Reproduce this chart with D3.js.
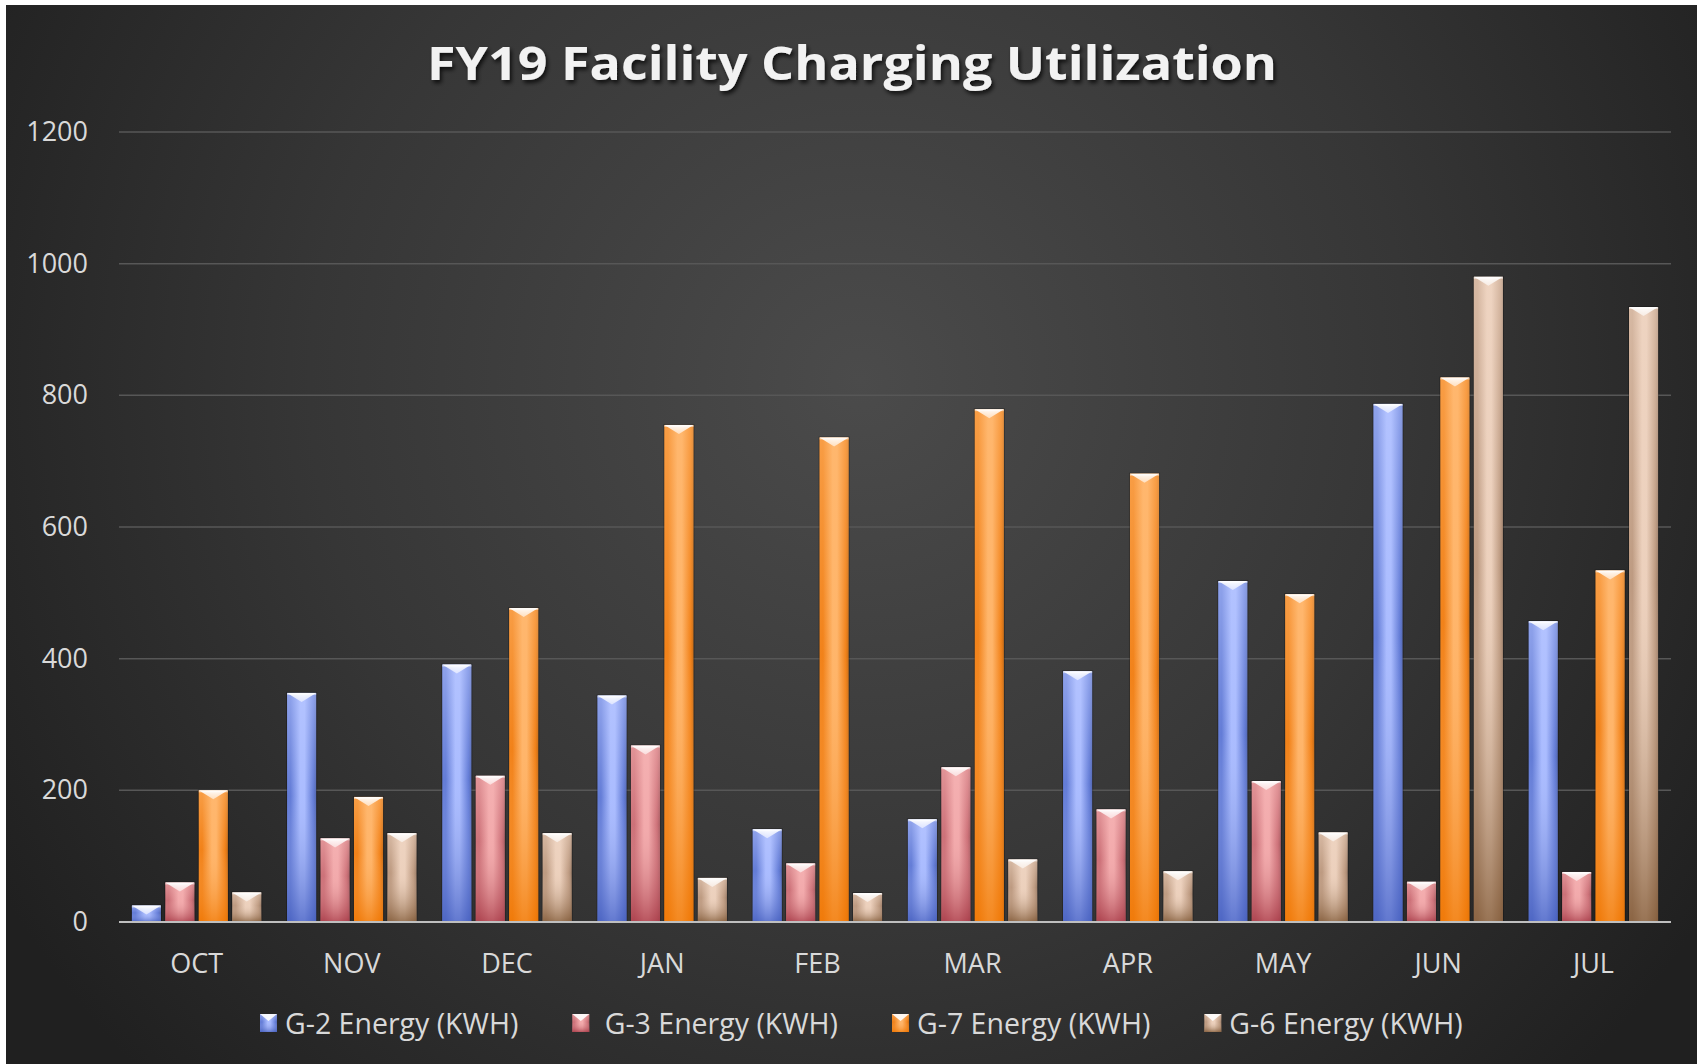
<!DOCTYPE html>
<html>
<head>
<meta charset="utf-8">
<script src="https://cdn.jsdelivr.net/npm/d3@7"></script>
<style>
  html, body { margin: 0; padding: 0; background: #ffffff; }
  svg { display: block; }
  .leg text { white-space: pre; }
</style>
</head>
<body>
<svg id="chart" width="1697" height="1064"></svg>
<script>
// ---- DATA ----
const months = ["OCT", "NOV", "DEC", "JAN", "FEB", "MAR", "APR", "MAY", "JUN", "JUL"];
const seriesNames = ["G-2 Energy (KWH)", " G-3 Energy (KWH)", "G-7 Energy (KWH)", "G-6 Energy (KWH)"];
const g2 = [25, 348, 391, 344, 141, 156, 381, 518, 787, 457];
const g3 = [60, 127, 222, 268, 89, 235, 171, 214, 61, 76];
const g7 = [200, 190, 477, 755, 736, 779, 681, 498, 827, 534];
const g6 = [45, 135, 135, 67, 44, 95, 77, 136, 980, 934];
const yTicks = [0, 200, 400, 600, 800, 1000, 1200];
const titleText = "FY19 Facility Charging Utilization";

const seriesValues = [g2, g3, g7, g6];

// ---- STYLES ----
const palettes = [
  { edge: "#5a74d2", mid: "#a9bbff", top: "#bac8ff", bottom: "#4a62bf" },
  { edge: "#c86a72", mid: "#f2a9ab", top: "#f6b6b6", bottom: "#a53845" },
  { edge: "#f07c10", mid: "#ffb56a", top: "#ffb870", bottom: "#f07a08" },
  { edge: "#b8947a", mid: "#ecd0bc", top: "#efd6c4", bottom: "#7c5532" }
];

const svg = d3.select("#chart");
const defs = svg.append("defs");

// Background gradient
const bg = defs.append("radialGradient").attr("id", "bgGrad")
  .attr("gradientUnits", "userSpaceOnUse")
  .attr("cx", 860).attr("cy", 380).attr("r", 1000);
bg.append("stop").attr("offset", "0").attr("stop-color", "#4b4b4b");
bg.append("stop").attr("offset", "0.55").attr("stop-color", "#363636");
bg.append("stop").attr("offset", "1").attr("stop-color", "#202020");

// Title shadow
const f = defs.append("filter").attr("id", "tshadow").attr("x", "-5%").attr("y", "-20%").attr("width", "110%").attr("height", "160%");
f.append("feDropShadow").attr("dx", 2).attr("dy", 3).attr("stdDeviation", 2)
  .attr("flood-color", "#000").attr("flood-opacity", 0.75);

// Bar gradients
palettes.forEach((p, i) => {
  const h = defs.append("linearGradient").attr("id", "h" + i)
    .attr("x1", "0").attr("y1", "0").attr("x2", "1").attr("y2", "0");
  h.append("stop").attr("offset", "0").attr("stop-color", p.edge);
  h.append("stop").attr("offset", "0.12").attr("stop-color", p.edge);
  h.append("stop").attr("offset", "0.45").attr("stop-color", p.mid);
  h.append("stop").attr("offset", "0.6").attr("stop-color", p.mid);
  h.append("stop").attr("offset", "0.9").attr("stop-color", p.edge);
  h.append("stop").attr("offset", "1").attr("stop-color", d3.color(p.edge).darker(0.6));

  const v = defs.append("linearGradient").attr("id", "v" + i)
    .attr("x1", "0").attr("y1", "0").attr("x2", "0").attr("y2", "1");
  v.append("stop").attr("offset", "0").attr("stop-color", p.top).attr("stop-opacity", 0.55);
  v.append("stop").attr("offset", "0.45").attr("stop-color", p.top).attr("stop-opacity", 0.1);
  v.append("stop").attr("offset", "1").attr("stop-color", p.bottom).attr("stop-opacity", 0.75);

  const t = defs.append("linearGradient").attr("id", "t" + i)
    .attr("x1", "0").attr("y1", "0").attr("x2", "0").attr("y2", "1");
  t.append("stop").attr("offset", "0").attr("stop-color", "#ffffff").attr("stop-opacity", 0.95);
  t.append("stop").attr("offset", "1").attr("stop-color", "#ffffff").attr("stop-opacity", 0.55);
});

// Background
svg.append("rect").attr("x", 6).attr("y", 5).attr("width", 1691).attr("height", 1059)
  .attr("fill", "url(#bgGrad)");

// ---- SCALES ----
const x0 = d3.scaleBand().domain(months).range([119, 1671]).paddingInner(0.166).paddingOuter(0.083);
const x1 = d3.scaleBand().domain(d3.range(seriesNames.length)).range([0, x0.bandwidth()]).paddingInner(0.13);
const y = d3.scaleLinear().domain([0, 1200]).range([922, 132]);

const FONT = "'Open Sans', 'Noto Sans', sans-serif";

// Gridlines
svg.append("g").selectAll("line").data(yTicks.filter(d => d > 0)).join("line")
  .attr("x1", 119).attr("x2", 1671)
  .attr("y1", d => y(d)).attr("y2", d => y(d))
  .attr("stroke", "#575757").attr("stroke-width", 1.5);

// Y axis labels
const yAxis = d3.axisLeft(y).tickValues(yTicks).tickSize(0).tickPadding(0).tickFormat(d3.format("d"));
const yg = svg.append("g").attr("transform", "translate(88,0)").call(yAxis);
yg.select(".domain").remove();
yg.selectAll("text").attr("font-family", FONT).attr("font-size", 27).attr("fill", "#d9d9d9");

// Bars
const groups = svg.append("g").selectAll("g").data(months).join("g")
  .attr("transform", d => `translate(${x0(d)},0)`);

groups.each(function(m, mi) {
  const g = d3.select(this);
  seriesValues.forEach((vals, si) => {
    const v = vals[mi];
    const bx = x1(si), bw = x1.bandwidth();
    const by = y(v), bh = y(0) - y(v);
    g.append("rect").attr("x", bx - 1).attr("y", by - 1).attr("width", bw + 2).attr("height", bh + 1)
      .attr("fill", "#000").attr("opacity", 0.25);
    g.append("rect").attr("x", bx).attr("y", by).attr("width", bw).attr("height", bh)
      .attr("fill", `url(#h${si})`);
    g.append("rect").attr("x", bx).attr("y", by).attr("width", bw).attr("height", bh)
      .attr("fill", `url(#v${si})`);
    const th = Math.min(9, bh);
    g.append("path")
      .attr("d", `M${bx},${by}L${bx + bw},${by}L${bx + bw * 0.5},${by + th}Z`)
      .attr("fill", `url(#t${si})`);
    g.append("rect").attr("x", bx).attr("y", by).attr("width", bw).attr("height", 2)
      .attr("fill", "#ffffff").attr("opacity", 0.5);
  });
});

// X axis line
svg.append("line").attr("x1", 119).attr("x2", 1671).attr("y1", y(0)).attr("y2", y(0))
  .attr("stroke", "#bfbfbf").attr("stroke-width", 2);

// X axis labels
const xAxis = d3.axisBottom(x0).tickSize(0).tickPadding(0);
const xg = svg.append("g").attr("transform", `translate(0,${y(0)})`).call(xAxis);
xg.select(".domain").remove();
xg.selectAll("text").attr("font-family", FONT).attr("font-size", 27).attr("fill", "#d9d9d9")
  .attr("dy", null).attr("y", 51);

// Title
svg.append("text").attr("x", 852).attr("y", 80).attr("text-anchor", "middle")
  .attr("font-family", FONT).attr("font-weight", 700).attr("font-size", 47)
  .attr("fill", "#f2f2f2").attr("filter", "url(#tshadow)")
  .attr("textLength", 850).attr("lengthAdjust", "spacingAndGlyphs")
  .text(titleText);

// Legend
const legend = svg.append("g").attr("class", "leg");
const legY = 1024;
const items = legend.selectAll("g").data(seriesNames).join("g");
items.append("rect").attr("width", 17).attr("height", 18).attr("y", legY - 10)
  .attr("fill", (d, i) => `url(#h${i})`);
items.append("rect").attr("width", 17).attr("height", 18).attr("y", legY - 10)
  .attr("fill", (d, i) => `url(#v${i})`);
items.append("path").attr("d", `M0,${legY - 10}L17,${legY - 10}L8.5,${legY - 3}Z`).attr("fill", "#fff").attr("opacity", 0.9);
items.append("text").attr("x", 25).attr("y", legY).attr("dy", "0.35em")
  .attr("font-family", FONT).attr("font-size", 28.5).attr("fill", "#d9d9d9")
  .text(d => d);
let cx = 260;
items.each(function() {
  const node = d3.select(this);
  node.attr("transform", `translate(${cx},0)`);
  const w = node.select("text").node().getComputedTextLength();
  cx += 25 + w + 54;
});
</script>
</body>
</html>
